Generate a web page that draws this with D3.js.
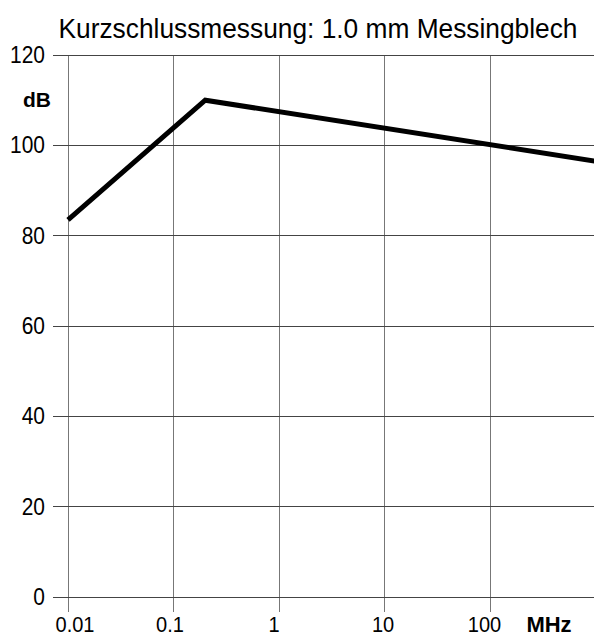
<!DOCTYPE html>
<html><head><meta charset="utf-8">
<script src="https://cdn.jsdelivr.net/npm/d3@7"></script>
<style>body{margin:0;background:#fff}svg{display:block}text{font-family:"Liberation Sans",Arial,Helvetica,sans-serif;fill:#000}</style>
</head><body>
<script>
const title = "Kurzschlussmessung: 1.0 mm Messingblech";
const freqMHz = [0.01, 0.2, 1000];
const dB = [83.5, 110, 96.5];
const xTicks = [0.01, 0.1, 1, 10, 100];
const xTickLabels = ["0.01", "0.1", "1", "10", "100"];
const yTicks = [0, 20, 40, 60, 80, 100, 120];
const xUnit = "MHz", yUnit = "dB";

const W = 594, H = 637;
const svg = d3.select("body").append("svg").attr("width", W).attr("height", H);
const x = d3.scaleLog().domain([0.01, 1000]).range([68, 595.5]);
const y = d3.scaleLinear().domain([0, 120]).range([597, 55]);

const g = svg.append("g");
// vertical grid lines (extend below axis as ticks)
g.selectAll(".vg").data(xTicks).join("line")
  .attr("x1", d => x(d)).attr("x2", d => x(d))
  .attr("y1", y(120)).attr("y2", y(0) + 15)
  .attr("stroke", "#777").attr("stroke-width", 1).attr("shape-rendering", "crispEdges");
// horizontal grid lines (extend left as ticks)
g.selectAll(".hg").data(yTicks).join("line")
  .attr("x1", x(0.01) - 15).attr("x2", W)
  .attr("y1", d => y(d)).attr("y2", d => y(d))
  .attr("stroke", "#444").attr("stroke-width", 1).attr("shape-rendering", "crispEdges");

const SX = 0.91; // horizontally condensed lettering of the original
// y tick labels
g.selectAll(".yl").data(yTicks).join("text")
  .attr("transform", d => `translate(${x(0.01) - 23},${y(d) + 8}) scale(${SX},1)`)
  .attr("text-anchor", "end").attr("font-size", 23).text(d => d);
// x tick labels (slight per-label nudges as in the original)
const nudge = [7, -3.5, -5, -1.5, -5.5];
g.selectAll(".xl").data(xTicks).join("text")
  .attr("transform", (d, i) => `translate(${x(d) + nudge[i]},632) scale(${SX},1)`)
  .attr("text-anchor", "middle").attr("font-size", 22).text((d, i) => xTickLabels[i]);

// units
svg.append("text").attr("x", 37).attr("y", 107).attr("text-anchor", "middle")
  .attr("font-size", 21).attr("font-weight", "bold").text(yUnit);
svg.append("text").attr("x", 549).attr("y", 632).attr("text-anchor", "middle")
  .attr("font-size", 22).attr("font-weight", "bold").text(xUnit);

// title
svg.append("text").attr("transform", "translate(318,38) scale(0.94,1)")
  .attr("text-anchor", "middle").attr("font-size", 28).text(title);

// data line
const pts = freqMHz.map((f, i) => [f, dB[i]]);
svg.append("path").datum(pts)
  .attr("d", d3.line().x(d => x(d[0])).y(d => y(d[1])))
  .attr("fill", "none").attr("stroke", "#000").attr("stroke-width", 5)
  .attr("stroke-linejoin", "miter");
</script>
</body></html>
